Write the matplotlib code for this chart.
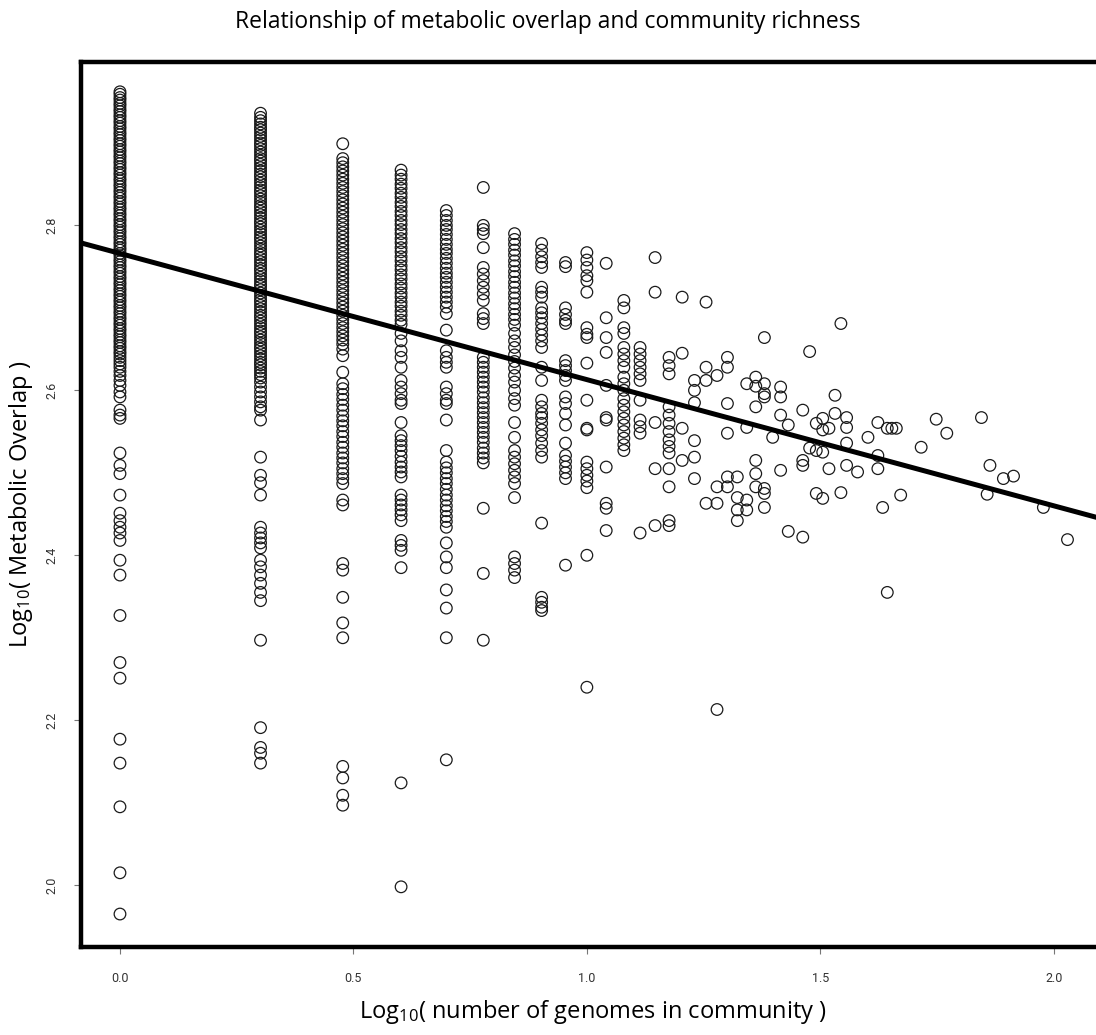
import numpy as np
import matplotlib.pyplot as plt

# number of genomes in community -> metabolic overlap values (log10)
genome_counts = [1, 2, 3, 4, 5, 6, 7, 8, 9, 10, 11, 12, 13, 14, 15, 16, 17, 18, 19, 20,
                 21, 22, 23, 24, 25, 26, 27, 29, 30, 31, 32, 33, 34, 35, 36, 38, 40, 42,
                 43, 44, 45, 46, 47, 52, 56, 59, 70, 72, 73, 78, 82, 95, 107]

overlap_n1 = [2.962, 2.959, 2.955, 2.952, 2.948, 2.945, 2.941, 2.938, 2.934, 2.931, 2.927,
              2.924, 2.920, 2.917, 2.913, 2.910, 2.906, 2.903, 2.899, 2.896, 2.892, 2.889,
              2.885, 2.882, 2.878, 2.875, 2.871, 2.868, 2.864, 2.861, 2.857, 2.854, 2.850,
              2.847, 2.843, 2.840, 2.836, 2.833, 2.829, 2.826, 2.822, 2.819, 2.815, 2.812,
              2.808, 2.805, 2.801, 2.798, 2.794, 2.791, 2.787, 2.784, 2.780, 2.777, 2.773,
              2.770, 2.766, 2.763, 2.759, 2.756, 2.752, 2.749, 2.745, 2.742, 2.738, 2.735,
              2.731, 2.728, 2.724, 2.721, 2.717, 2.714, 2.710, 2.707, 2.703, 2.700, 2.696,
              2.693, 2.689, 2.686, 2.682, 2.679, 2.675, 2.672, 2.668, 2.665, 2.661, 2.658,
              2.654, 2.651, 2.647, 2.644, 2.640, 2.636, 2.632, 2.628, 2.623, 2.618, 2.612,
              2.606, 2.598, 2.592, 2.576, 2.570, 2.566, 2.524, 2.509, 2.499, 2.473, 2.451,
              2.442, 2.434, 2.427, 2.418, 2.394, 2.376, 2.327, 2.270, 2.251, 2.177, 2.148,
              2.095, 2.015, 1.965]
overlap_n2 = [2.936, 2.931, 2.927, 2.923, 2.919, 2.916, 2.912, 2.908, 2.904, 2.900, 2.897,
              2.893, 2.889, 2.885, 2.881, 2.878, 2.874, 2.870, 2.866, 2.862, 2.859, 2.855,
              2.851, 2.847, 2.843, 2.840, 2.836, 2.832, 2.828, 2.824, 2.821, 2.817, 2.813,
              2.809, 2.805, 2.802, 2.798, 2.794, 2.790, 2.786, 2.783, 2.779, 2.775, 2.771,
              2.767, 2.764, 2.760, 2.756, 2.752, 2.748, 2.745, 2.741, 2.737, 2.733, 2.729,
              2.726, 2.722, 2.718, 2.714, 2.710, 2.707, 2.703, 2.699, 2.695, 2.691, 2.688,
              2.684, 2.680, 2.676, 2.672, 2.669, 2.665, 2.661, 2.657, 2.653, 2.650, 2.646,
              2.642, 2.638, 2.634, 2.631, 2.627, 2.623, 2.619, 2.615, 2.610, 2.604, 2.598,
              2.592, 2.586, 2.580, 2.576, 2.564, 2.519, 2.497, 2.488, 2.473, 2.434, 2.427,
              2.421, 2.415, 2.409, 2.394, 2.386, 2.376, 2.366, 2.355, 2.345, 2.297, 2.191,
              2.167, 2.160, 2.148]
overlap_n3 = [2.899, 2.881, 2.876, 2.871, 2.866, 2.861, 2.856, 2.851, 2.846, 2.841, 2.836,
              2.831, 2.826, 2.821, 2.816, 2.811, 2.806, 2.801, 2.796, 2.791, 2.786, 2.781,
              2.776, 2.771, 2.766, 2.761, 2.756, 2.751, 2.746, 2.741, 2.736, 2.731, 2.726,
              2.721, 2.716, 2.711, 2.706, 2.701, 2.696, 2.691, 2.686, 2.681, 2.676, 2.671,
              2.666, 2.661, 2.656, 2.650, 2.642, 2.622, 2.608, 2.602, 2.595, 2.589, 2.582,
              2.576, 2.569, 2.563, 2.557, 2.550, 2.544, 2.537, 2.531, 2.524, 2.518, 2.512,
              2.505, 2.499, 2.493, 2.487, 2.467, 2.461, 2.390, 2.382, 2.349, 2.318, 2.300,
              2.144, 2.130, 2.109, 2.097]
overlap_n4 = [2.867, 2.861, 2.856, 2.850, 2.845, 2.839, 2.834, 2.828, 2.823, 2.817, 2.812,
              2.806, 2.801, 2.795, 2.790, 2.784, 2.779, 2.773, 2.768, 2.762, 2.757, 2.751,
              2.746, 2.740, 2.735, 2.729, 2.724, 2.718, 2.713, 2.707, 2.702, 2.696, 2.691,
              2.685, 2.680, 2.669, 2.660, 2.648, 2.640, 2.628, 2.612, 2.604, 2.596, 2.588,
              2.584, 2.561, 2.545, 2.539, 2.533, 2.527, 2.520, 2.513, 2.507, 2.501, 2.495,
              2.473, 2.467, 2.461, 2.455, 2.449, 2.442, 2.418, 2.412, 2.406, 2.385, 2.124,
              1.998]
overlap_n5 = [2.818, 2.812, 2.806, 2.800, 2.795, 2.789, 2.783, 2.777, 2.771, 2.766, 2.760,
              2.754, 2.748, 2.742, 2.737, 2.731, 2.725, 2.719, 2.713, 2.707, 2.701, 2.693,
              2.673, 2.648, 2.640, 2.634, 2.628, 2.604, 2.596, 2.588, 2.584, 2.564, 2.527,
              2.513, 2.506, 2.500, 2.493, 2.487, 2.480, 2.473, 2.467, 2.460, 2.454, 2.447,
              2.441, 2.434, 2.415, 2.398, 2.385, 2.358, 2.336, 2.300, 2.152]
overlap_n6 = [2.846, 2.800, 2.795, 2.790, 2.773, 2.749, 2.741, 2.733, 2.725, 2.717, 2.709,
              2.693, 2.687, 2.681, 2.640, 2.634, 2.628, 2.622, 2.616, 2.610, 2.604, 2.598,
              2.591, 2.585, 2.579, 2.573, 2.567, 2.561, 2.555, 2.549, 2.543, 2.537, 2.530,
              2.524, 2.518, 2.512, 2.457, 2.378, 2.297]
overlap_n7 = [2.790, 2.783, 2.777, 2.770, 2.764, 2.757, 2.751, 2.744, 2.738, 2.731, 2.725,
              2.718, 2.712, 2.705, 2.699, 2.692, 2.686, 2.679, 2.669, 2.660, 2.652, 2.643,
              2.635, 2.627, 2.618, 2.610, 2.600, 2.590, 2.582, 2.561, 2.543, 2.527, 2.519,
              2.511, 2.503, 2.495, 2.487, 2.470, 2.398, 2.390, 2.382, 2.373]
overlap_n8 = [2.778, 2.770, 2.762, 2.755, 2.749, 2.725, 2.719, 2.713, 2.700, 2.694, 2.688,
              2.681, 2.674, 2.667, 2.660, 2.652, 2.628, 2.612, 2.588, 2.580, 2.572, 2.567,
              2.560, 2.552, 2.545, 2.536, 2.527, 2.519, 2.439, 2.349, 2.343, 2.337, 2.333]
overlap_n9 = [2.755, 2.750, 2.700, 2.692, 2.685, 2.681, 2.636, 2.630, 2.624, 2.618, 2.612,
              2.592, 2.584, 2.572, 2.558, 2.536, 2.521, 2.514, 2.507, 2.500, 2.493, 2.388]
overlap_n10 = [2.767, 2.758, 2.749, 2.739, 2.733, 2.719, 2.676, 2.668, 2.664, 2.633, 2.588,
               2.554, 2.552, 2.513, 2.505, 2.497, 2.490, 2.482, 2.400, 2.240]
overlap_n11 = [2.754, 2.688, 2.664, 2.646, 2.606, 2.567, 2.564, 2.507, 2.463, 2.457, 2.430]
overlap_n12 = [2.709, 2.700, 2.676, 2.669, 2.652, 2.644, 2.636, 2.628, 2.616, 2.608, 2.600,
               2.590, 2.582, 2.574, 2.566, 2.558, 2.550, 2.542, 2.534, 2.527]
overlap_n13 = [2.652, 2.644, 2.636, 2.628, 2.620, 2.612, 2.588, 2.564, 2.556, 2.548, 2.427]
overlap_n14 = [2.761, 2.719, 2.561, 2.505, 2.436]
overlap_n15 = [2.640, 2.630, 2.620, 2.580, 2.570, 2.560, 2.550, 2.540, 2.532, 2.524, 2.505,
               2.483, 2.442, 2.436]
overlap_n16 = [2.713, 2.645, 2.554, 2.515]
overlap_n17 = [2.612, 2.600, 2.585, 2.539, 2.519, 2.493]
overlap_n18 = [2.707, 2.628, 2.612, 2.463]
overlap_n19 = [2.618, 2.483, 2.463, 2.213]
overlap_n20 = [2.640, 2.628, 2.584, 2.548, 2.495, 2.483]
overlap_n21 = [2.495, 2.470, 2.455, 2.442]
overlap_n22 = [2.608, 2.555, 2.467, 2.455]
overlap_n23 = [2.616, 2.605, 2.580, 2.515, 2.499, 2.483]
overlap_n24 = [2.664, 2.608, 2.596, 2.592, 2.481, 2.475, 2.458]
overlap_n25 = [2.543]
overlap_n26 = [2.604, 2.592, 2.570, 2.503]
overlap_n27 = [2.558, 2.429]
overlap_n29 = [2.576, 2.515, 2.509, 2.422]
overlap_n30 = [2.647, 2.530]
overlap_n31 = [2.560, 2.527, 2.475]
overlap_n32 = [2.566, 2.552, 2.525, 2.469]
overlap_n33 = [2.554, 2.505]
overlap_n34 = [2.594, 2.572]
overlap_n35 = [2.681, 2.476]
overlap_n36 = [2.567, 2.555, 2.536, 2.509]
overlap_n38 = [2.501]
overlap_n40 = [2.543]
overlap_n42 = [2.561, 2.521, 2.505]
overlap_n43 = [2.458]
overlap_n44 = [2.554, 2.355]
overlap_n45 = [2.554]
overlap_n46 = [2.554]
overlap_n47 = [2.473]
overlap_n52 = [2.531]
overlap_n56 = [2.565]
overlap_n59 = [2.548]
overlap_n70 = [2.567]
overlap_n72 = [2.474]
overlap_n73 = [2.509]
overlap_n78 = [2.493]
overlap_n82 = [2.496]
overlap_n95 = [2.458]
overlap_n107 = [2.419]

overlap_columns = [overlap_n1, overlap_n2, overlap_n3, overlap_n4, overlap_n5, overlap_n6,
                   overlap_n7, overlap_n8, overlap_n9, overlap_n10, overlap_n11, overlap_n12,
                   overlap_n13, overlap_n14, overlap_n15, overlap_n16, overlap_n17, overlap_n18,
                   overlap_n19, overlap_n20, overlap_n21, overlap_n22, overlap_n23, overlap_n24,
                   overlap_n25, overlap_n26, overlap_n27, overlap_n29, overlap_n30, overlap_n31,
                   overlap_n32, overlap_n33, overlap_n34, overlap_n35, overlap_n36, overlap_n38,
                   overlap_n40, overlap_n42, overlap_n43, overlap_n44, overlap_n45, overlap_n46,
                   overlap_n47, overlap_n52, overlap_n56, overlap_n59, overlap_n70, overlap_n72,
                   overlap_n73, overlap_n78, overlap_n82, overlap_n95, overlap_n107]

# fitted line
fit_intercept = 2.766
fit_slope = -0.153

x_ticks = [0.0, 0.5, 1.0, 1.5, 2.0]
x_tick_labels = ["0.0", "0.5", "1.0", "1.5", "2.0"]
y_ticks = [2.0, 2.2, 2.4, 2.6, 2.8]
y_tick_labels = ["2.0", "2.2", "2.4", "2.6", "2.8"]

plt.rcParams['font.family'] = ['Open Sans', 'DejaVu Sans']
plt.rcParams['mathtext.fontset'] = 'custom'
plt.rcParams['mathtext.rm'] = 'Open Sans'
plt.rcParams['mathtext.it'] = 'Open Sans'

# flatten columns into x/y
xs = []
ys = []
for n, col in zip(genome_counts, overlap_columns):
    xs.extend([np.log10(n)] * len(col))
    ys.extend(col)

fig = plt.figure(figsize=(10.96, 10.35), dpi=100)
ax = fig.add_axes([0.0739, 0.085, 0.934, 0.855])

ax.scatter(xs, ys, s=70, facecolors='none', edgecolors='#1a1a1a', linewidths=0.9, zorder=2)
ax.axline((0, fit_intercept), slope=fit_slope, color='black', linewidth=3.6, zorder=3)

ax.set_xlim(-0.0835, 2.109)
ax.set_ylim(1.925, 2.998)

ax.set_xticks(x_ticks)
ax.set_xticklabels(x_tick_labels, family=['Liberation Sans Narrow', 'Roboto', 'DejaVu Sans'])
ax.set_yticks(y_ticks)
ax.set_yticklabels(y_tick_labels, rotation=90, va='center',
                   family=['Liberation Sans Narrow', 'Roboto', 'DejaVu Sans'])
ax.tick_params(axis='both', labelsize=9, colors='#777777', labelcolor='#333333',
               length=5, width=0.8)
ax.tick_params(axis='x', pad=13)
ax.tick_params(axis='y', pad=11)

for sp in ax.spines.values():
    sp.set_linewidth(3.2)
    sp.set_color('black')

ax.set_xlabel(r"Log$_{10}$( number of genomes in community )", fontsize=17, labelpad=9)
ax.set_ylabel(r"Log$_{10}$( Metabolic Overlap )", fontsize=17, labelpad=8)
fig.suptitle("Relationship of metabolic overlap and community richness", fontsize=16.5,
             x=0.5, y=0.99, va='top')

fig.savefig("out.png", dpi=100)
